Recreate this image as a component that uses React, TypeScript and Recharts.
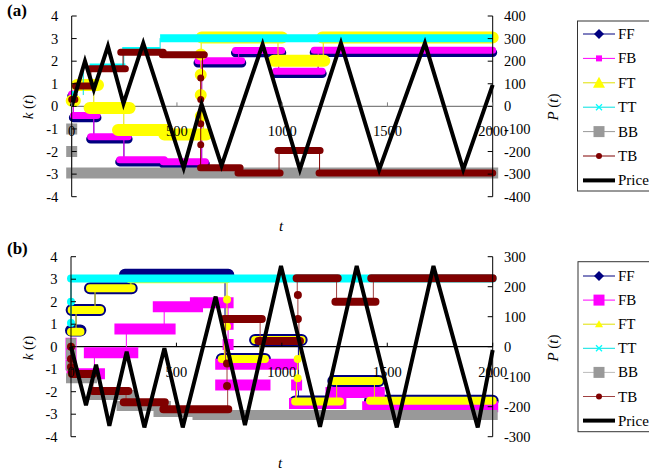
import React from 'react';
import { ComposedChart, Line, XAxis, YAxis, ReferenceLine } from 'recharts';

type Seg = [number, number, number]; // [tStart, tEnd, k]
type Pt = [number, number]; // [t, P]

// ---------- shared ticks ----------
const tTicks = [0, 500, 1000, 1500, 2000];
const kTicks = [-4, -3, -2, -1, 0, 1, 2, 3, 4];
const pTicksA = [-400, -300, -200, -100, 0, 100, 200, 300, 400];
const pTicksB = [-300, -200, -100, 0, 100, 200, 300];
const seriesNames = ['FF', 'FB', 'FT', 'TT', 'BB', 'TB', 'Price'];

// ---------- panel (a) ----------
const ffA: Seg[] = [[0, 8, 0.45], [8, 120, -0.5], [90, 268, -1.45], [228, 440, -2.46], [435, 635, -2.55], [600, 808, 1.92], [778, 998, 2.37], [968, 1190, 1.45], [1152, 2000, 2.38]];
const fbA: Seg[] = [[0, 8, 0.55], [8, 120, -0.4], [90, 268, -1.35], [228, 440, -2.36], [435, 635, -2.45], [600, 808, 2.02], [778, 998, 2.47], [968, 1190, 1.55], [1152, 2000, 2.48]];
const ftA: Seg[] = [[0, 15, 0.25], [25, 125, 0.95], [85, 275, -0.07], [220, 450, -1.05], [440, 640, -1.25], [613, 613, -0.44], [613, 613, 0.5], [613, 613, 1.4], [613, 613, 2.3], [617, 1000, 3.05], [960, 1200, 2.02], [1190, 2000, 3.05]];
const ttA: Seg[] = [[0, 25, 0.5], [85, 255, 1.72], [240, 420, 2.45], [420, 2000, 3.02]];
const bbA: Seg[] = [[0, 0, -1], [0, 0, -2], [0, 2000, -2.95]];
const tbA: Seg[] = [[0, 15, 0.3], [18, 95, 0.9], [87, 255, 1.67], [233, 435, 2.4], [430, 630, 2.29], [613, 613, 1.26], [613, 613, 0.3], [613, 613, -0.77], [613, 613, -1.7], [612, 800, -2.72], [790, 990, -2.95], [980, 1180, -1.96], [1175, 2000, -2.95]];
const priceA: Pt[] = [[0, 0], [63, 200], [105, 74], [172, 266], [246, 12], [340, 280], [532, -273], [617, 10], [712, -262], [907, 275], [1084, -280], [1279, 280], [1461, -280], [1678, 280], [1860, -280], [2000, 95]];

// ---------- panel (b) ----------
const ffB: Seg[] = [[0, 45, 0.72], [3, 138, 1.63], [90, 288, 2.6], [256, 746, 3.2], [715, 920, -0.55], [873, 1094, 0.3], [1063, 1276, -2.44], [1244, 1460, -1.52], [1418, 2000, -2.4]];
const fbB: Seg[] = [[0, 0, 0.15], [0, 0, -0.3], [0, 0, -0.8], [5, 135, -1.2], [87, 293, -0.27], [232, 470, 0.79], [414, 600, 1.78], [590, 745, 1.95], [745, 745, 1.0], [745, 745, 0.1], [710, 1055, -0.78], [710, 920, -1.7], [1070, 1070, -1.7], [1060, 1280, -2.52], [1233, 1462, -2.04], [1407, 2000, -2.67]];
const ftB: Seg[] = [[0, 45, 0.67], [3, 138, 1.63], [90, 288, 2.6], [280, 740, 3.0], [740, 740, 2.1], [740, 740, 0.9], [715, 920, -0.55], [873, 1094, 0.3], [1075, 1075, -0.55], [1075, 1075, -1.4], [1063, 1276, -2.44], [1244, 1460, -1.52], [1418, 2000, -2.4]];
const ttB: Seg[] = [[0, 0, 1.05], [0, 0, 2.0], [0, 2000, 3.03]];
const bbB: Seg[] = [[0, 0, 0.15], [0, 0, -0.35], [0, 0, -0.85], [0, 100, -1.4], [105, 280, -2.15], [240, 450, -2.64], [415, 625, -2.9], [600, 2000, -3.03]];
const tbB: Seg[] = [[0, 0, 0], [0, 0, -0.55], [0, 0, -0.9], [5, 105, -1.21], [103, 272, -1.97], [250, 445, -2.47], [438, 746, -2.78], [740, 740, -1.75], [740, 740, -0.75], [726, 905, 1.23], [889, 1086, 0.25], [1076, 1076, 1.23], [1076, 1076, 2.3], [1070, 1265, 3.04], [1254, 1444, 2.0], [1424, 2000, 3.04]];
const priceB: Pt[] = [[0, 0], [71, -195], [119, -60], [182, -264], [264, -17], [348, -269], [443, -5], [530, -269], [686, 167], [825, -261], [996, 269], [1181, -267], [1355, 269], [1545, -269], [1719, 269], [1929, -269], [2000, -11]];

// ---------- styling ----------
const FONT = 'Liberation Serif';
const COLORS: Record<string, string> = { FF: '#000080', FB: '#FF00FF', FT: '#FFFF00', TT: '#00FFFF', BB: '#999999', TB: '#800000' };

type Cap = 'round' | 'butt' | 'square';
interface SeriesSpec { name: string; segs: Seg[]; width: number; cap: Cap; link: string }

const seriesA: SeriesSpec[] = [
  { name: 'FF', segs: ffA, width: 9, cap: 'round', link: '#000080' },
  { name: 'FB', segs: fbA, width: 7, cap: 'round', link: '#FF00FF' },
  { name: 'FT', segs: ftA, width: 12, cap: 'round', link: '#E0E000' },
  { name: 'TT', segs: ttA, width: 8, cap: 'butt', link: '#00E0E0' },
  { name: 'BB', segs: bbA, width: 11, cap: 'square', link: '#999999' },
  { name: 'TB', segs: tbA, width: 7, cap: 'round', link: '#800000' },
];
const seriesB: SeriesSpec[] = [
  { name: 'FF', segs: ffB, width: 12, cap: 'round', link: '#000080' },
  { name: 'FB', segs: fbB, width: 11, cap: 'square', link: '#FF00FF' },
  { name: 'FT', segs: ftB, width: 8, cap: 'round', link: '#E0E000' },
  { name: 'TT', segs: ttB, width: 8, cap: 'round', link: '#00E0E0' },
  { name: 'BB', segs: bbB, width: 10, cap: 'square', link: '#BBBBBB' },
  { name: 'TB', segs: tbB, width: 8, cap: 'round', link: '#A04040' },
];

const bandData = (segs: Seg[]) =>
  segs.flatMap(([a, b, k]) => [{ t: a, v: k }, { t: b, v: k }, { t: b, v: null as number | null }]);
const linkData = (segs: Seg[]) =>
  segs.slice(1).flatMap((s, i) => {
    const p = segs[i];
    const c = (p[1] + s[0]) / 2;
    return [{ t: c, v: p[2] as number | null }, { t: c, v: s[2] as number | null }, { t: c, v: null as number | null }];
  });
const priceData = (pts: Pt[]) => pts.map(([t, v]) => ({ t, v }));

const XTick = (props: any) => {
  const { x, payload, zeroY, lineColor } = props;
  return (
    <g>
      <line x1={x} x2={x} y1={zeroY - 4} y2={zeroY} stroke={lineColor} strokeWidth={1} />
      <text x={x} y={zeroY + 25} textAnchor="middle" dominantBaseline="central" fontSize={14.5} fontFamily={FONT} fill="#000">
        {payload.value}
      </text>
    </g>
  );
};

interface PanelProps {
  top: number; height: number; margin: { top: number; right: number; bottom: number; left: number };
  series: SeriesSpec[]; price: Pt[]; pDomain: [number, number]; pTicks: number[]; axisColor: string;
}

function Panel({ top, height, margin, series, price, pDomain, pTicks, axisColor }: PanelProps) {
  const plotH = height - margin.top - margin.bottom - 20;
  const zeroY = margin.top + plotH / 2;
  const tickStyle = { fontSize: 14.5, fontFamily: FONT, fill: '#000' };
  return (
    <div style={{ position: 'absolute', left: 0, top }}>
      <ComposedChart width={649} height={height} margin={margin}>
        <XAxis dataKey="t" type="number" domain={[0, 2000]} ticks={tTicks} interval={0} height={20}
          axisLine={false} tickLine={false}
          tick={(p: any) => <XTick {...p} zeroY={zeroY} lineColor={axisColor} />} />
        <YAxis yAxisId="left" domain={[-4, 4]} ticks={kTicks} interval={0} width={40}
          tickSize={-5} tickMargin={18.4} axisLine={{ stroke: '#000' }} tickLine={{ stroke: '#000' }} tick={tickStyle} />
        <YAxis yAxisId="right" orientation="right" domain={pDomain} ticks={pTicks} interval={0} width={40}
          tickSize={-5} tickMargin={16.3} axisLine={{ stroke: '#000' }} tickLine={{ stroke: '#000' }} tick={tickStyle} />
        <ReferenceLine yAxisId="left" y={0} stroke={axisColor} strokeWidth={1.3} />
        {series.flatMap((s) => [
          <Line key={s.name + '-link'} yAxisId="left" data={linkData(s.segs)} dataKey="v" type="linear"
            stroke={s.link} strokeWidth={1} dot={false} activeDot={false} legendType="none" isAnimationActive={false} />,
          <Line key={s.name} name={s.name} yAxisId="left" data={bandData(s.segs)} dataKey="v" type="linear"
            stroke={COLORS[s.name]} strokeWidth={s.width} strokeLinecap={s.cap} dot={false} activeDot={false} isAnimationActive={false} />,
        ])}
        <Line name="Price" yAxisId="right" data={priceData(price)} dataKey="v" type="linear"
          stroke="#000" strokeWidth={4} strokeLinejoin="miter" dot={false} activeDot={false} isAnimationActive={false} />
      </ComposedChart>
    </div>
  );
}

function LegendMarker({ name, cx, cy, big }: { name: string; cx: number; cy: number; big: boolean }) {
  switch (name) {
    case 'FF': {
      const h = 5;
      return <path d={`M${cx},${cy - h}L${cx + h},${cy}L${cx},${cy + h}L${cx - h},${cy}Z`} fill={COLORS.FF} />;
    }
    case 'FB': {
      const h = big ? 5.5 : 3;
      return <rect x={cx - h} y={cy - h} width={2 * h} height={2 * h} fill={COLORS.FB} />;
    }
    case 'FT': {
      const w = big ? 6 : 4, hh = big ? 10 : 6;
      return <path d={`M${cx},${cy - hh / 2 - 1}L${cx + w},${cy + hh / 2}L${cx - w},${cy + hh / 2}Z`} fill={COLORS.FT} />;
    }
    case 'TT':
      return (
        <g stroke={COLORS.TT} strokeWidth={1.3}>
          <line x1={cx - 3} y1={cy - 3} x2={cx + 3} y2={cy + 3} />
          <line x1={cx - 3} y1={cy + 3} x2={cx + 3} y2={cy - 3} />
        </g>
      );
    case 'BB':
      return <rect x={cx - 5.5} y={cy - 5.5} width={11} height={11} fill={COLORS.BB} />;
    case 'TB':
      return <circle cx={cx} cy={cy} r={3} fill={COLORS.TB} />;
    default:
      return null;
  }
}

function LegendBox({ x, y, h, first, step, series, bigFB, bigFT }: { x: number; y: number; h: number; first: number; step: number; series: SeriesSpec[]; bigFB: boolean; bigFT: boolean }) {
  return (
    <g>
      <rect x={x} y={y} width={90} height={h} fill="#fff" stroke="#333" strokeWidth={1} />
      {seriesNames.map((n, i) => {
        const cy = first + i * step;
        const spec = series.find((s) => s.name === n);
        const lineColor = n === 'Price' ? '#000' : spec ? spec.link : '#000';
        return (
          <g key={n}>
            <line x1={583} x2={615} y1={cy} y2={cy} stroke={lineColor} strokeWidth={n === 'Price' ? 4 : 1} />
            <LegendMarker name={n} cx={599} cy={cy} big={n === 'FB' ? bigFB : n === 'FT' ? bigFT : true} />
            <text x={618} y={cy} dominantBaseline="central" fontSize={15} fontFamily={FONT} fill="#000">{n}</text>
          </g>
        );
      })}
    </g>
  );
}

function AxisTitle({ x, y, v }: { x: number; y: number; v: string }) {
  return (
    <text transform={`translate(${x},${y}) rotate(-90)`} textAnchor="middle" dominantBaseline="central" fontSize={15} fontFamily={FONT} fill="#000">
      <tspan fontStyle="italic">{v}</tspan> (<tspan fontStyle="italic">t</tspan>)
    </text>
  );
}

export default function App() {
  return (
    <div style={{ position: 'absolute', left: 0, top: 0, width: 649, height: 473, background: '#fff', overflow: 'hidden', fontFamily: FONT }}>
      <Panel top={0} height={236} margin={{ top: 16, right: 116.3, bottom: 19.3, left: 31.7 }}
        series={seriesA} price={priceA} pDomain={[-400, 400]} pTicks={pTicksA} axisColor="#808080" />
      <Panel top={236} height={237} margin={{ top: 20.7, right: 116.3, bottom: 16.3, left: 31 }}
        series={seriesB} price={priceB} pDomain={[-300, 300]} pTicks={pTicksB} axisColor="#000" />
      <svg width={649} height={473} style={{ position: 'absolute', left: 0, top: 0, pointerEvents: 'none' }}>
        <text x={7} y={16} fontSize={17} fontWeight="bold" fontFamily={FONT} fill="#000">(a)</text>
        <text x={7} y={254} fontSize={17} fontWeight="bold" fontFamily={FONT} fill="#000">(b)</text>
        <AxisTitle x={28} y={107} v="k" />
        <AxisTitle x={28} y={348} v="k" />
        <AxisTitle x={553} y={107} v="P" />
        <AxisTitle x={553} y={348} v="P" />
        <text x={281} y={226} textAnchor="middle" dominantBaseline="central" fontSize={15} fontStyle="italic" fontFamily={FONT} fill="#000">t</text>
        <text x={280} y={463} textAnchor="middle" dominantBaseline="central" fontSize={15} fontStyle="italic" fontFamily={FONT} fill="#000">t</text>
        <LegendBox x={577.5} y={21} h={170} first={34} step={24.4} series={seriesA} bigFB={false} bigFT={true} />
        <LegendBox x={578} y={261.7} h={170} first={276} step={24.1} series={seriesB} bigFB={true} bigFT={false} />
      </svg>
    </div>
  );
}
